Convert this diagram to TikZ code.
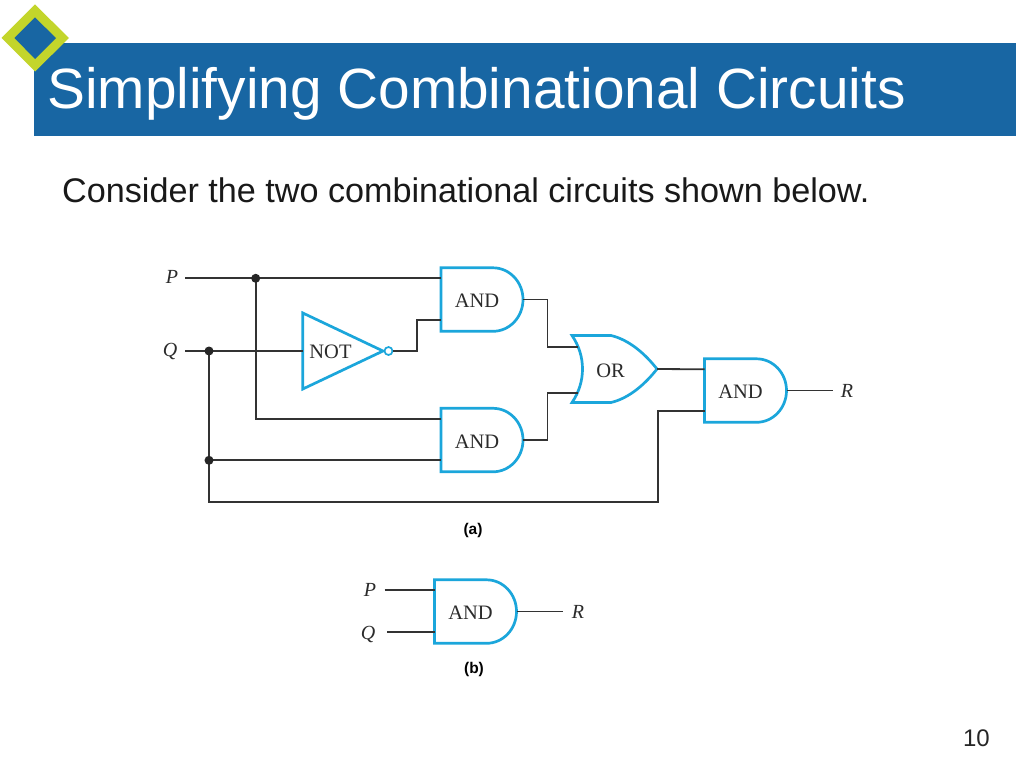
\documentclass[tikz,border=0pt]{standalone}
\usepackage{fontspec}
\setmainfont{Liberation Sans}
\newfontfamily\gateserif{Liberation Serif}
\definecolor{barblue}{HTML}{1866A3}
\definecolor{limeedge}{HTML}{C3D52B}
\definecolor{gateblue}{HTML}{1BA6DB}
\definecolor{wirecol}{HTML}{333333}
\definecolor{labelcol}{HTML}{2B2B2B}
\tikzset{
  gateline/.style={draw=gateblue,line width=2.7pt,line join=miter,fill=white},
  wire/.style={draw=wirecol,line width=1.8pt,line join=miter},
  gatetext/.style={inner sep=0pt,text=labelcol,font=\gateserif\fontsize{20.5}{20.5}\selectfont},
  pinname/.style={inner sep=0pt,text=labelcol,font=\gateserif\itshape\fontsize{20}{20}\selectfont},
  caption/.style={inner sep=0pt,font=\bfseries\fontsize{15.5}{15.5}\selectfont},
  junction/.style={circle,fill=black!85,inner sep=0pt,minimum size=9pt},
}
% x (left), y (top), name: AND gate 82 wide, 63.5 high
\newcommand{\andgate}[3]{%
  \path[gateline] (#1,#2) -- ++(52,0) arc[start angle=-90,end angle=90,x radius=30,y radius=31.75] -- (#1,#2+63.5) -- cycle;
  \node[gatetext] (#3) at (#1+36,#2+33) {AND};
  \coordinate (#3-a) at (#1,#2+10.5);
  \coordinate (#3-b) at (#1,#2+52);
  \coordinate (#3-o) at (#1+82,#2+31.75);
}
\begin{document}
\begin{tikzpicture}[x=1pt,y=-1pt]
\useasboundingbox (0,0) rectangle (1024,768);
\fill[white] (0,0) rectangle (1024,768);
% header
\fill[barblue] (34,43) rectangle (1016,136);
\fill[limeedge] (35,4.5) -- (69,38) -- (35,71.5) -- (1.5,38) -- cycle;
\fill[barblue] (35,17.5) -- (56,38) -- (35,59) -- (14.5,38) -- cycle;
\node[anchor=base west,inner sep=0pt,text=white,font=\fontsize{56.8}{60}\selectfont] (title) at (47,108) {Simplifying Combinational Circuits};
\node[anchor=base west,inner sep=0pt,text=black!90,font=\fontsize{34.17}{36}\selectfont] (intro) at (62,202) {Consider the two combinational circuits shown below.};
\node[anchor=base east,inner sep=0pt,text=black!85,font=\fontsize{24}{24}\selectfont] (pageno) at (990,746) {10};
% gates of circuit (a)
\andgate{441}{267.8}{and1}
\andgate{441}{408.3}{and2}
\andgate{704.5}{358.8}{and3}
% OR
\path[gateline] (572,335.5) -- (611,335.5) .. controls (630,340) and (646,355) .. (657,369)
  .. controls (646,383) and (630,398) .. (611,402.5) -- (572,402.5) .. controls (586,382) and (586,356) .. (572,335.5) -- cycle;
\node[gatetext] (or1) at (610.5,371) {OR};
\coordinate (or1-a) at (577.5,346.7);
\coordinate (or1-b) at (577.5,392.7);
\coordinate (or1-o) at (657,369);
% NOT
\path[gateline] (302.8,313) -- (383,351) -- (302.8,389) -- cycle;
\node[gatetext] (not1) at (330.5,351.5) {NOT};
\coordinate (not1-i) at (302.8,351);
\node[circle,draw=gateblue,line width=1.7pt,fill=white,inner sep=0pt,minimum size=8pt] (bub) at (388.5,351) {};
% pins of circuit (a)
\node[pinname] (P) at (172,277) {P};
\node[pinname] (Q) at (170,351) {Q};
\node[pinname] (R) at (847,391) {R};
\coordinate (Pstart) at (185,0 |- and1-a);
\coordinate (Qstart) at (185,351);
\coordinate (Rend) at (833,0 |- and3-o);
\coordinate (Pj) at (255.7,0 |- and1-a);
\coordinate (Qj) at (209,351);
\coordinate (Qk) at (209,0 |- and2-b);
\coordinate (Qbot) at (209,501.7);
\coordinate (Tbot) at (658,501.7);
\coordinate (Tup) at (658,0 |- and3-b);
\coordinate (Nup) at (416.7,0 |- and1-b);
\coordinate (Nmid) at (416.7,351);
\coordinate (Oa) at (547.5,0 |- or1-a);
\coordinate (Ob) at (547.5,0 |- or1-b);
\coordinate (Aa) at (547.5,0 |- and1-o);
\coordinate (Ab) at (547.5,0 |- and2-o);
% wires
\draw[wire] (Pstart) -- (and1-a);
\draw[wire] (Qstart) -- (not1-i);
\draw[wire] (bub.east) -- (Nmid) -- (Nup) -- (and1-b);
\draw[wire] (Pj) |- (and2-a);
\draw[wire] (Qj) -- (Qbot) -- (Tbot) -- (Tup) -- (and3-b);
\draw[wire] (Qk) -- (and2-b);
\draw[wire] (and1-o) -- (Aa) -- (Oa) -- (or1-a);
\draw[wire] (and2-o) -- (Ab) -- (Ob) -- (or1-b);
\draw[wire] (or1-o) -- (and3-a);
\draw[wire] (and3-o) -- (Rend);
\node[junction] at (Pj) {};
\node[junction] at (Qj) {};
\node[junction] at (Qk) {};
\node[caption] (capa) at (473,530) {(a)};
% circuit (b)
\andgate{434.5}{579.8}{and4}
\node[pinname] (P2) at (370,590) {P};
\node[pinname] (Q2) at (368,634) {Q};
\node[pinname] (R2) at (578,612) {R};
\coordinate (P2s) at (384.7,0 |- and4-a);
\coordinate (Q2s) at (387,0 |- and4-b);
\coordinate (R2e) at (562.7,0 |- and4-o);
\draw[wire] (P2s) -- (and4-a);
\draw[wire] (Q2s) -- (and4-b);
\draw[wire] (and4-o) -- (R2e);
\node[caption] (capb) at (474,669) {(b)};
\end{tikzpicture}
\end{document}
